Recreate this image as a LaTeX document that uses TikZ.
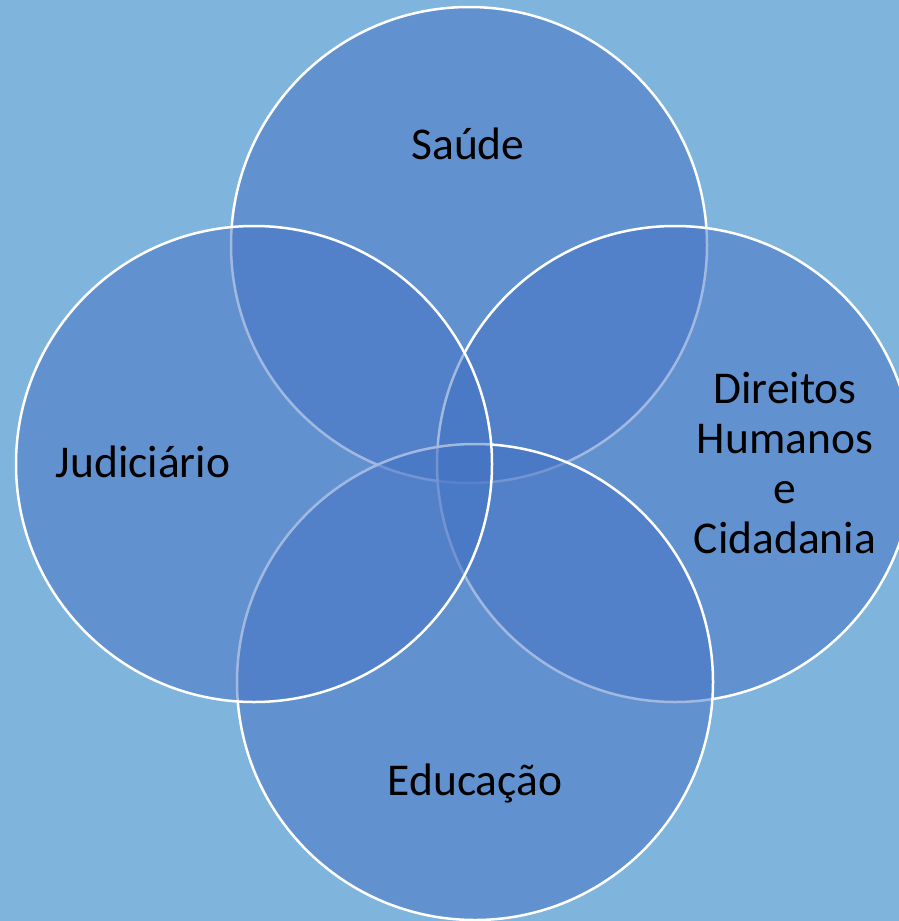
\documentclass[tikz,border=0pt]{standalone}
\usepackage{fontspec}
\setmainfont{Carlito}
\definecolor{bgblue}{RGB}{127,180,220}
\definecolor{officeblue}{RGB}{68,114,196}
\tikzset{
  venn/.style={circle, draw=white, line width=2.5pt, fill=officeblue, fill opacity=0.5, draw opacity=1, minimum size=476pt, inner sep=0pt},
  lbl/.style={text=black, font=\fontsize{45.5}{49.7}\selectfont, align=center, inner sep=0pt}
}
\begin{document}
\begin{tikzpicture}[x=1pt,y=-1pt]
\fill[bgblue] (0,0) rectangle (899,921);
\useasboundingbox (0,0) rectangle (899,921);
\node[venn] (saude) at (469,245) {};
\node[venn] (direitos) at (675,464) {};
\node[venn] (educacao) at (475,682) {};
\node[venn] (judiciario) at (254,464) {};
\node[lbl, anchor=base] (tsaude) at (468,159) {Saúde};
\node[lbl, anchor=base] (tjud) at (143,477) {Judiciário};
\node[lbl, anchor=base] (tedu) at (475,795) {Educação};
\node[lbl] (tdir) at (785,463) {Direitos\\Humanos\\e\\Cidadania};
\end{tikzpicture}
\end{document}
